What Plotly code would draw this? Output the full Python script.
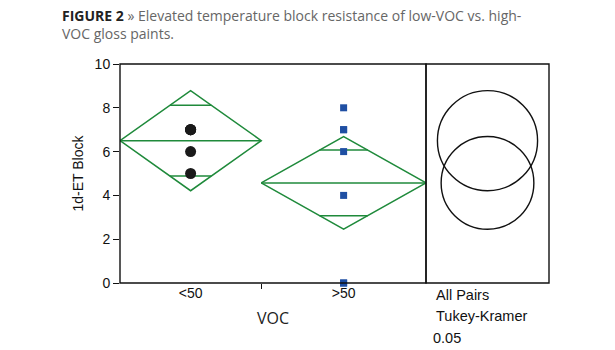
import numpy as np
import plotly.graph_objects as go

# ---- data ----
categories = ["<50", ">50"]
low_voc = [5, 6, 7, 7, 7, 7]          # 1d-ET Block, VOC <50
high_voc = [8, 7, 7, 6, 4, 0, 0]      # 1d-ET Block, VOC >50
y_ticks = [0, 2, 4, 6, 8, 10]
t_crit = 2.201                        # t(0.975, df=11) = Tukey-Kramer q/sqrt(2) for 2 groups
footer = ["All Pairs", "Tukey-Kramer", "0.05"]

GREEN = "#1f8a3b"
BLUE = "#1f4fa3"
FONT = "Liberation Sans, Arial, sans-serif"

groups = [low_voc, high_voc]
ns = [len(g) for g in groups]
means = [float(np.mean(g)) for g in groups]
ss = sum(float(np.sum((np.array(g) - np.mean(g)) ** 2)) for g in groups)
s_pool = np.sqrt(ss / (sum(ns) - len(groups)))
halfw = [t_crit * s_pool / np.sqrt(n) for n in ns]

# group extents along x (width proportional to n)
edges = np.concatenate([[0], np.cumsum(ns)]).astype(float)
centers = [(edges[i] + edges[i + 1]) / 2 for i in range(len(groups))]

fig = go.Figure()

for i, g in enumerate(groups):
    x0, x1, xc, m, h = edges[i], edges[i + 1], centers[i], means[i], halfw[i]
    # diamond
    fig.add_trace(go.Scatter(
        x=[x0, xc, x1, xc, x0, None, x0, x1],
        y=[m, m + h, m, m - h, m, None, m, m],
        mode="lines", line=dict(color=GREEN, width=1.5),
        hoverinfo="skip", showlegend=False))
    # overlap marks
    d = h / np.sqrt(2)
    hw = (x1 - x0) / 2 * (1 - d / h)
    fig.add_trace(go.Scatter(
        x=[xc - hw, xc + hw, None, xc - hw, xc + hw],
        y=[m + d, m + d, None, m - d, m - d],
        mode="lines", line=dict(color=GREEN, width=1.5),
        hoverinfo="skip", showlegend=False))

# points
fig.add_trace(go.Scatter(
    x=[centers[0]] * len(low_voc), y=low_voc, mode="markers",
    marker=dict(symbol="circle", size=11, color="#1a1a1a"),
    showlegend=False))
fig.add_trace(go.Scatter(
    x=[centers[1]] * len(high_voc), y=high_voc, mode="markers",
    marker=dict(symbol="square", size=7, color=BLUE),
    showlegend=False, cliponaxis=False))

# comparison circles
for i in range(len(groups)):
    r = halfw[i]
    fig.add_shape(type="circle", xref="x2", yref="y",
                  x0=-r, x1=r, y0=means[i] - r, y1=means[i] + r,
                  line=dict(color="#111111", width=1.4))

# panel frames
for xr in ["x domain", "x2 domain"]:
    fig.add_shape(type="rect", xref=xr, yref="y domain", x0=0, x1=1, y0=0, y1=1,
                  line=dict(color="#111111", width=1.4), layer="above")

# footer text
for k, txt in enumerate(footer):
    fig.add_annotation(text=txt, xref="paper", yref="paper",
                       x=0.732 - (0.007 if k == 2 else 0), y=-0.055 - k * 0.097,
                       xanchor="left", yanchor="middle", showarrow=False,
                       font=dict(family=FONT, size=14.5, color="#111111"))

# figure caption
fig.add_annotation(
    text=("<b>FIGURE 2</b> <span style='color:#666666'>» Elevated temperature block "
          "resistance of low-VOC vs. high-<br>VOC gloss paints.</span>"),
    xref="paper", yref="paper", x=-60 / 429, y=(283 - 4) / 219,
    xanchor="left", yanchor="top", align="left", showarrow=False,
    font=dict(family="Open Sans, sans-serif", size=14, color="#222222"))

W = 306 / 429
fig.update_layout(
    width=615, height=350,
    margin=dict(l=120, r=66, t=64, b=67),
    paper_bgcolor="white", plot_bgcolor="white",
    xaxis=dict(domain=[0, W], range=[edges[0], edges[-1]],
               tickvals=centers, ticktext=categories, ticks="",
               showgrid=False, zeroline=False, showline=False,
               tickfont=dict(family=FONT, size=14, color="#111111"),
               minor=dict(tickvals=[edges[1]], ticks="outside", ticklen=5,
                          tickcolor="#111111", tickwidth=1.3),
               title=dict(text="VOC", standoff=12,
                          font=dict(family="Open Sans, sans-serif", size=16,
                                    color="#222222"))),
    xaxis2=dict(domain=[W, 1], anchor="y", range=[-1, 1],
                scaleanchor="y", scaleratio=1, constrain="range",
                showticklabels=False, ticks="", showgrid=False,
                zeroline=False, showline=False),
    yaxis=dict(range=[0, 10], tickvals=y_ticks, ticks="outside", ticklen=6,
               tickcolor="#111111", tickwidth=1.3,
               showgrid=False, zeroline=False, showline=False,
               tickfont=dict(family=FONT, size=14, color="#111111"),
               title=dict(text="1d-ET Block", standoff=7,
                          font=dict(family=FONT, size=14, color="#111111"))),
)

fig.write_html("out.html")
